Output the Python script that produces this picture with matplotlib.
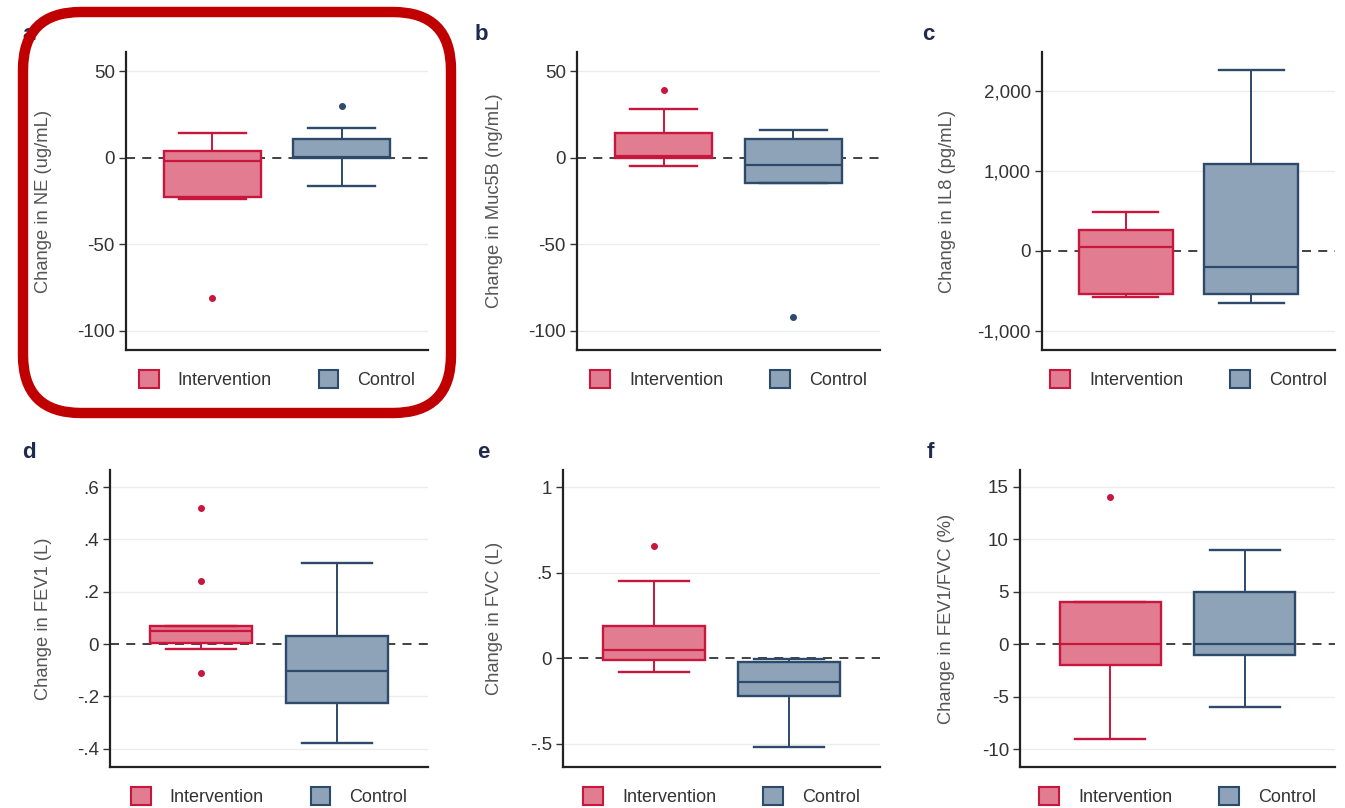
import numpy as np
import matplotlib
matplotlib.use("Agg")
import matplotlib.pyplot as plt
from matplotlib.patches import Patch, FancyBboxPatch

plt.rcParams['font.family'] = ['Liberation Sans', 'DejaVu Sans']

# five-number summaries: [whisker low, q1, median, q3, whisker high]
ne_intervention = [-24, -22.5, -2, 4, 14]
ne_intervention_out = [-81]
ne_control = [-16.5, 0, 0.5, 11, 17]
ne_control_out = [30]

muc_intervention = [-5, 0, 0.8, 14, 28]
muc_intervention_out = [39]
muc_control = [-14.5, -14.5, -4, 10.5, 16]
muc_control_out = [-92]

il8_intervention = [-580, -540, 50, 260, 490]
il8_intervention_out = []
il8_control = [-650, -540, -200, 1085, 2260]
il8_control_out = []

fev1_intervention = [-0.02, 0.005, 0.05, 0.07, 0.07]
fev1_intervention_out = [0.52, 0.24, -0.11]
fev1_control = [-0.38, -0.225, -0.105, 0.03, 0.31]
fev1_control_out = []

fvc_intervention = [-0.08, -0.01, 0.045, 0.187, 0.45]
fvc_intervention_out = [0.655]
fvc_control = [-0.52, -0.22, -0.14, -0.025, -0.005]
fvc_control_out = []

ratio_intervention = [-9, -2, 0, 4, 4]
ratio_intervention_out = [14]
ratio_control = [-6, -1, 0, 5, 9]
ratio_control_out = []

groups = ['Intervention', 'Control']
letters = ['a', 'b', 'c', 'd', 'e', 'f']
ylabels = ['Change in NE (ug/mL)', 'Change in Muc5B (ng/mL)', 'Change in IL8 (pg/mL)',
           'Change in FEV1 (L)', 'Change in FVC (L)', 'Change in FEV1/FVC (%)']
yticks = [[-100, -50, 0, 50], [-100, -50, 0, 50], [-1000, 0, 1000, 2000],
          [-0.4, -0.2, 0, 0.2, 0.4, 0.6], [-0.5, 0, 0.5, 1], [-10, -5, 0, 5, 10, 15]]
yticklabels = [['-100', '-50', '0', '50'], ['-100', '-50', '0', '50'],
               ['-1,000', '0', '1,000', '2,000'],
               ['-.4', '-.2', '0', '.2', '.4', '.6'], ['-.5', '0', '.5', '1'],
               ['-10', '-5', '0', '5', '10', '15']]
ylims = [(-111, 61), (-111, 61), (-1240, 2490), (-0.47, 0.665), (-0.636, 1.1), (-11.7, 16.6)]

data = [
    (ne_intervention, ne_intervention_out, ne_control, ne_control_out),
    (muc_intervention, muc_intervention_out, muc_control, muc_control_out),
    (il8_intervention, il8_intervention_out, il8_control, il8_control_out),
    (fev1_intervention, fev1_intervention_out, fev1_control, fev1_control_out),
    (fvc_intervention, fvc_intervention_out, fvc_control, fvc_control_out),
    (ratio_intervention, ratio_intervention_out, ratio_control, ratio_control_out),
]

fill_colors = ['#e27d91', '#8ea3b8']
edge_colors = ['#c8163c', '#2d4a6a']

W, H = 1345, 808
fig = plt.figure(figsize=(W / 100, H / 100), dpi=100)
fig.patch.set_facecolor('white')

# axes boxes in pixels: left, right, top, bottom
boxes_px = [(126, 428, 52, 350), (577, 880, 52, 350), (1042, 1335, 52, 350),
            (110, 428, 470, 767), (563, 880, 470, 767), (1020, 1335, 470, 767)]
# right edge of the rotated y label, in pixels
label_right = [52, 503, 956, 52, 503, 955]
letter_pos = [(22, 40), (475, 40), (922, 40), (22, 458), (477, 458), (927, 458)]


def to_stats(five, out, label):
    lo, q1, med, q3, hi = five
    return dict(whislo=lo, q1=q1, med=med, q3=q3, whishi=hi, fliers=out, label=label)


for i, (l, r, t, b) in enumerate(boxes_px):
    ax = fig.add_axes([l / W, 1 - b / H, (r - l) / W, (b - t) / H])
    intv, intv_out, ctl, ctl_out = data[i]
    ax.set_xlim(0.33, 2.67)
    ax.set_ylim(*ylims[i])

    # light grid, dashed zero line
    for yv in yticks[i]:
        if yv != 0:
            ax.axhline(yv, color='#ececec', lw=1, zorder=0)
    ax.axhline(0, color='#333333', lw=1.3, dashes=(5, 4), zorder=1)

    for k, (five, out) in enumerate([(intv, intv_out), (ctl, ctl_out)]):
        st = [to_stats(five, out, groups[k])]
        ec = edge_colors[k]
        ax.bxp(st, positions=[k + 1], widths=0.75, patch_artist=True,
               showfliers=True, manage_ticks=False,
               boxprops=dict(facecolor=fill_colors[k], edgecolor=ec, linewidth=1.7),
               medianprops=dict(color=ec, linewidth=1.6),
               whiskerprops=dict(color=ec, linewidth=1.4),
               capprops=dict(color=ec, linewidth=1.7),
               capwidths=0.52,
               flierprops=dict(marker='o', markersize=4, markerfacecolor=ec,
                               markeredgecolor=ec),
               zorder=3)

    ax.set_yticks(yticks[i])
    ax.set_yticklabels(yticklabels[i])
    ax.set_xticks([])
    ax.tick_params(axis='y', length=5, width=1, color='#333333', labelsize=13.5,
                   labelcolor='#333333', pad=3)
    for s in ['top', 'right']:
        ax.spines[s].set_visible(False)
    for s in ['left', 'bottom']:
        ax.spines[s].set_color('#222222')
        ax.spines[s].set_linewidth(1.6)
    ax.set_ylabel(ylabels[i], fontsize=13.2, color='#555555')
    ax.yaxis.set_label_coords((label_right[i] - l) / (r - l), 0.5)

    handles = [Patch(facecolor=fill_colors[k], edgecolor=edge_colors[k], linewidth=1.5,
                     label=groups[k]) for k in range(2)]
    ax.legend(handles=handles, loc='upper center', bbox_to_anchor=(0.5, -0.012),
              ncol=2, frameon=False, fontsize=13, handlelength=1.1, handleheight=1.15,
              handletextpad=1.05, columnspacing=2.6, labelcolor='#333333')

    lx, ly = letter_pos[i]
    fig.text(lx / W, 1 - ly / H, letters[i], fontsize=16, fontweight='bold',
             color='#1f2a4d', ha='left', va='baseline')

# highlight frame around the first panel
frame = FancyBboxPatch((23 / 100, (H - 413) / 100), (451 - 23) / 100, (413 - 12) / 100,
                       boxstyle='round,pad=0,rounding_size=0.58',
                       transform=fig.dpi_scale_trans, fill=False,
                       edgecolor='#c00000', linewidth=7.5, zorder=10)
fig.patches.append(frame)

fig.savefig('out.png', dpi=100, facecolor='white')
